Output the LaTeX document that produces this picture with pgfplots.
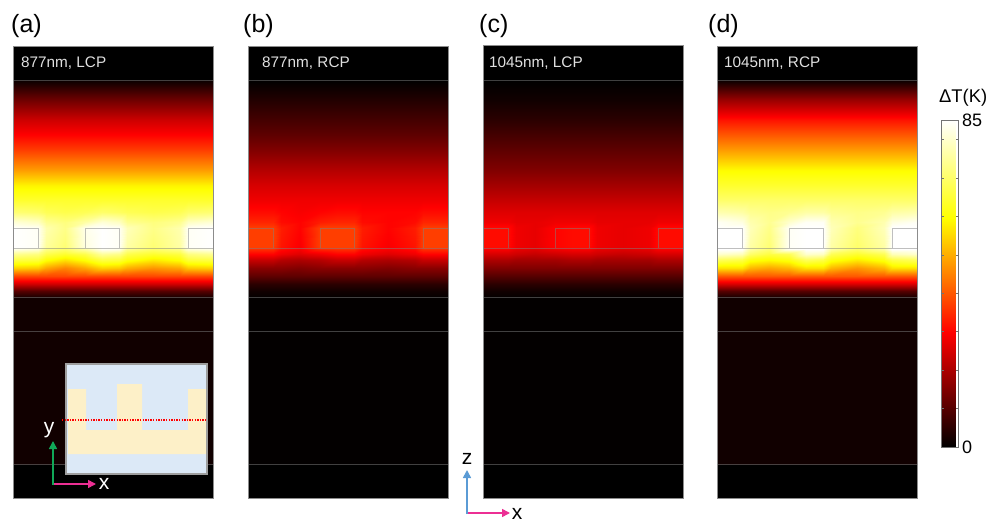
\documentclass[border=0pt]{standalone}
\usepackage{pgfplots}
\pgfplotsset{compat=1.18}
\usepackage{fontspec}
\setmainfont{Liberation Sans}
\usetikzlibrary{arrows.meta}
\definecolor{pinkA}{HTML}{EC2F94}
\definecolor{greenA}{HTML}{10A858}
\definecolor{blueA}{HTML}{5B9BD5}
\definecolor{insetB}{HTML}{DCE9F7}
\definecolor{insetC}{HTML}{FDF0C8}
\newcommand{\fs}[1]{\fontsize{#1}{#1}\selectfont}
\pgfplotsset{
  colormap={hotk}{rgb(0cm)=(0,0,0); rgb(35cm)=(1,0,0); rgb(70cm)=(1,1,0); rgb(100cm)=(1,1,1)},
  table/tt/.style={row sep=\\,header=false,x index=0,y index=1,meta index=2},
  panel/.style={scale only axis,width=200pt,height=452pt,xmin=0,xmax=200,ymin=46,ymax=498,
    y dir=reverse,xtick=\empty,ytick=\empty,anchor=south west,colormap name=hotk,
    point meta min=0,point meta max=85,axis line style={draw=black!45,line width=.8pt},
    axis background/.style={fill=black},axis on top},
  hm/.style={surf,shader=interp,point meta=explicit,mesh/cols=12,forget plot},
  hc/.style={surf,shader=interp,point meta=explicit,mesh/cols=3,forget plot},
  hb/.style={surf,shader=interp,point meta=explicit,mesh/cols=2,forget plot},
}
\tikzset{ln/.style={draw=black!50,opacity=.5,line width=.7pt}}
\newcommand{\layers}{%
  \draw[ln] (0,80)--(200,80);
  \draw[ln] (0,248)--(200,248);
  \draw[ln] (0,297)--(200,297);
  \draw[ln] (0,331)--(200,331);
  \draw[ln] (0,464)--(200,464);
  \draw[ln] (0,228)--(25,228)--(25,248);
  \draw[ln] (72,248)--(72,228)--(106,228)--(106,248);
  \draw[ln] (175,248)--(175,228)--(200,228);
}
\begin{document}
\begin{tikzpicture}
\useasboundingbox (0,0) rectangle (989pt,523pt);
% ---------- (a)
\begin{axis}[panel,at={(13pt,25pt)}]
\addplot[hb] table[tt]{0 297 2\\200 297 2\\0 464 2\\200 464 2\\};
\addplot[hc] table[tt]{0 80 1\\100 80 1\\200 80 1\\0 100 13\\100 100 13\\200 100 13\\0 120 24\\100 120 24\\200 120 24\\0 135 30\\100 135 30\\200 135 30\\0 150 37\\100 150 37\\200 150 37\\0 170 48\\100 170 48\\200 170 48\\0 185 58\\100 185 58\\200 185 58\\0 200 64\\100 200 64\\200 200 64\\};
\addplot[hm] table[tt]{
0 200 64\\25 200 64\\33 200 64\\52 200 64\\72 200 64\\89 200 64\\106 200 64\\114 200 64\\140 200 64\\167 200 64\\175 200 64\\200 200 64\\
0 212 71\\25 212 70\\33 212 68\\52 212 67\\72 212 68\\89 212 70\\106 212 69\\114 212 68\\140 212 67\\167 212 68\\175 212 70\\200 212 71\\
0 222 81\\25 222 79\\33 222 74\\52 222 72\\72 222 76\\89 222 81\\106 222 79\\114 222 74\\140 222 72\\167 222 74\\175 222 79\\200 222 81\\
0 228 85\\25 228 84\\33 228 77\\52 228 73\\72 228 83\\89 228 85\\106 228 84\\114 228 78\\140 228 73\\167 228 77\\175 228 84\\200 228 85\\
0 247 85\\25 247 84\\33 247 75\\52 247 71\\72 247 82\\89 247 85\\106 247 84\\114 247 76\\140 247 71\\167 247 76\\175 247 84\\200 247 85\\
0 249 83\\25 249 81\\33 249 73\\52 249 70\\72 249 76\\89 249 84\\106 249 83\\114 249 74\\140 249 70\\167 249 73\\175 249 81\\200 249 83\\
0 254 74\\25 254 72\\33 254 67\\52 254 64\\72 254 67\\89 254 75\\106 254 73\\114 254 67\\140 254 64\\167 254 66\\175 254 72\\200 254 74\\
0 260 66\\25 260 65\\33 260 60\\52 260 56\\72 260 60\\89 260 66\\106 260 65\\114 260 61\\140 260 57\\167 260 60\\175 260 65\\200 260 66\\
0 268 54\\25 268 53\\33 268 49\\52 268 45\\72 268 49\\89 268 54\\106 268 53\\114 268 50\\140 268 47\\167 268 49\\175 268 53\\200 268 54\\
0 276 38\\25 276 38\\33 276 38\\52 276 38\\72 276 38\\89 276 38\\106 276 38\\114 276 38\\140 276 38\\167 276 38\\175 276 38\\200 276 38\\
};
\addplot[hc] table[tt]{0 276 38\\100 276 38\\200 276 38\\0 284 24\\100 284 24\\200 284 24\\0 291 10\\100 291 10\\200 291 10\\0 297 3\\100 297 3\\200 297 3\\};
\layers
\end{axis}
% ---------- (b)
\begin{axis}[panel,at={(248pt,25pt)}]
\addplot[hb] table[tt]{0 297 .4\\200 297 .4\\0 464 .4\\200 464 .4\\};
\addplot[hc] table[tt]{0 80 0\\100 80 0\\200 80 0\\0 100 4\\100 100 4\\200 100 4\\0 120 8\\100 120 8\\200 120 8\\0 135 11\\100 135 11\\200 135 11\\0 150 15\\100 150 15\\200 150 15\\0 170 21\\100 170 21\\200 170 21\\0 185 25\\100 185 25\\200 185 25\\0 200 28\\100 200 28\\200 200 28\\};
\addplot[hm] table[tt]{
0 200 28\\25 200 28\\33 200 28\\52 200 28\\72 200 28\\89 200 28\\106 200 28\\114 200 28\\140 200 28\\167 200 28\\175 200 28\\200 200 28\\
0 212 31\\25 212 31\\33 212 30\\52 212 29\\72 212 30\\89 212 31\\106 212 31\\114 212 30\\140 212 30\\167 212 30\\175 212 31\\200 212 31\\
0 222 34\\25 222 34\\33 222 31\\52 222 30\\72 222 33\\89 222 34\\106 222 34\\114 222 31\\140 222 30\\167 222 31\\175 222 34\\200 222 34\\
0 228 37\\25 228 37\\33 228 33\\52 228 30\\72 228 37\\89 228 37\\106 228 37\\114 228 33\\140 228 30\\167 228 33\\175 228 37\\200 228 37\\
0 247 37\\25 247 37\\33 247 32\\52 247 29\\72 247 37\\89 247 37\\106 247 37\\114 247 32\\140 247 29\\167 247 32\\175 247 37\\200 247 37\\
0 249 35\\25 249 35\\33 249 31\\52 249 29\\72 249 34\\89 249 35\\106 249 35\\114 249 31\\140 249 29\\167 249 31\\175 249 35\\200 249 35\\
0 254 30\\25 254 30\\33 254 28\\52 254 26\\72 254 28\\89 254 30\\106 254 30\\114 254 28\\140 254 26\\167 254 28\\175 254 30\\200 254 30\\
0 260 23\\25 260 23\\33 260 21\\52 260 20\\72 260 21\\89 260 23\\106 260 23\\114 260 21\\140 260 20\\167 260 21\\175 260 23\\200 260 23\\
0 268 16\\25 268 16\\33 268 16\\52 268 15\\72 268 16\\89 268 16\\106 268 16\\114 268 16\\140 268 15\\167 268 16\\175 268 16\\200 268 16\\
0 276 11\\25 276 11\\33 276 11\\52 276 11\\72 276 11\\89 276 11\\106 276 11\\114 276 11\\140 276 11\\167 276 11\\175 276 11\\200 276 11\\
};
\addplot[hc] table[tt]{0 276 11\\100 276 11\\200 276 11\\0 284 5\\100 284 5\\200 284 5\\0 291 2\\100 291 2\\200 291 2\\0 297 .5\\100 297 .5\\200 297 .5\\};
\layers
\end{axis}
% ---------- (c)
\begin{axis}[panel,at={(483pt,25pt)},height=453pt,ymin=45]
\addplot[hb] table[tt]{0 297 .3\\200 297 .3\\0 464 .3\\200 464 .3\\};
\addplot[hc] table[tt]{0 80 0\\100 80 0\\200 80 0\\0 100 2\\100 100 2\\200 100 2\\0 120 5\\100 120 5\\200 120 5\\0 135 8\\100 135 8\\200 135 8\\0 150 11\\100 150 11\\200 150 11\\0 170 15\\100 170 15\\200 170 15\\0 185 19\\100 185 19\\200 185 19\\0 200 23\\100 200 23\\200 200 23\\};
\addplot[hm] table[tt]{
0 200 23\\25 200 23\\33 200 23\\52 200 23\\72 200 23\\89 200 23\\106 200 23\\114 200 23\\140 200 23\\167 200 23\\175 200 23\\200 200 23\\
0 212 26\\25 212 26\\33 212 26\\52 212 26\\72 212 26\\89 212 26\\106 212 26\\114 212 26\\140 212 26\\167 212 26\\175 212 26\\200 212 26\\
0 222 28\\25 222 28\\33 222 27\\52 222 27\\72 222 28\\89 222 28\\106 222 28\\114 222 27\\140 222 27\\167 222 27\\175 222 28\\200 222 28\\
0 228 31\\25 228 31\\33 228 28\\52 228 27\\72 228 30\\89 228 31\\106 228 31\\114 228 28\\140 228 27\\167 228 28\\175 228 31\\200 228 31\\
0 247 31\\25 247 31\\33 247 28\\52 247 27\\72 247 30\\89 247 31\\106 247 31\\114 247 28\\140 247 27\\167 247 28\\175 247 31\\200 247 31\\
0 249 29\\25 249 29\\33 249 27\\52 249 26\\72 249 28\\89 249 29\\106 249 29\\114 249 27\\140 249 26\\167 249 27\\175 249 29\\200 249 29\\
0 254 25\\25 254 25\\33 254 24\\52 254 23\\72 254 24\\89 254 25\\106 254 25\\114 254 24\\140 254 23\\167 254 24\\175 254 25\\200 254 25\\
0 260 20\\25 260 20\\33 260 19\\52 260 19\\72 260 19\\89 260 20\\106 260 20\\114 260 19\\140 260 19\\167 260 19\\175 260 20\\200 260 20\\
0 268 15\\25 268 15\\33 268 15\\52 268 15\\72 268 15\\89 268 15\\106 268 15\\114 268 15\\140 268 15\\167 268 15\\175 268 15\\200 268 15\\
0 276 10\\25 276 10\\33 276 10\\52 276 10\\72 276 10\\89 276 10\\106 276 10\\114 276 10\\140 276 10\\167 276 10\\175 276 10\\200 276 10\\
};
\addplot[hc] table[tt]{0 276 10\\100 276 10\\200 276 10\\0 284 5\\100 284 5\\200 284 5\\0 291 2\\100 291 2\\200 291 2\\0 297 .5\\100 297 .5\\200 297 .5\\};
\layers
\end{axis}
% ---------- (d)
\begin{axis}[panel,at={(717pt,25pt)},colorbar,
  colorbar style={at={(parent axis.south west)},anchor=south west,xshift=216pt,yshift=51pt,
    scale only axis,width=17pt,height=327pt,ymin=0,ymax=85,ytick={0,85},yticklabels={0,85},
    minor ytick={10,20,30,40,50,60,70,80},tick align=inside,major tick length=0pt,minor tick length=2.5pt,
    tick style={draw=black!55},yticklabel style={font=\fs{18},xshift=0pt},
    axis line style={draw=black!55,line width=.8pt},axis on top}]
\addplot[hb] table[tt]{0 297 2\\200 297 2\\0 464 2\\200 464 2\\};
\addplot[hc] table[tt]{0 80 1\\100 80 1\\200 80 1\\0 100 18\\100 100 18\\200 100 18\\0 120 32\\100 120 32\\200 120 32\\0 135 40\\100 135 40\\200 135 40\\0 150 48\\100 150 48\\200 150 48\\0 170 59\\100 170 59\\200 170 59\\0 185 64\\100 185 64\\200 185 64\\0 200 70\\100 200 70\\200 200 70\\};
\addplot[hm] table[tt]{
0 200 70\\25 200 70\\33 200 70\\52 200 70\\72 200 70\\89 200 70\\106 200 70\\114 200 70\\140 200 70\\167 200 70\\175 200 70\\200 200 70\\
0 212 77\\25 212 76\\33 212 74\\52 212 73\\72 212 74\\89 212 76\\106 212 76\\114 212 74\\140 212 73\\167 212 74\\175 212 76\\200 212 77\\
0 222 84\\25 222 82\\33 222 77\\52 222 74\\72 222 80\\89 222 84\\106 222 84\\114 222 77\\140 222 74\\167 222 77\\175 222 82\\200 222 84\\
0 228 85\\25 228 85\\33 228 78\\52 228 73\\72 228 84\\89 228 85\\106 228 85\\114 228 78\\140 228 72\\167 228 78\\175 228 85\\200 228 85\\
0 247 85\\25 247 85\\33 247 76\\52 247 71\\72 247 84\\89 247 85\\106 247 85\\114 247 76\\140 247 70\\167 247 76\\175 247 85\\200 247 85\\
0 249 85\\25 249 85\\33 249 76\\52 249 71\\72 249 84\\89 249 85\\106 249 85\\114 249 76\\140 249 70\\167 249 76\\175 249 85\\200 249 85\\
0 254 80\\25 254 78\\33 254 70\\52 254 66\\72 254 68\\89 254 80\\106 254 79\\114 254 68\\140 254 64\\167 254 68\\175 254 78\\200 254 80\\
0 260 68\\25 260 66\\33 260 61\\52 260 59\\72 260 61\\89 260 68\\106 260 66\\114 260 61\\140 260 57\\167 260 61\\175 260 66\\200 260 68\\
0 268 56\\25 268 56\\33 268 51\\52 268 49\\72 268 51\\89 268 56\\106 268 56\\114 268 51\\140 268 47\\167 268 51\\175 268 56\\200 268 56\\
0 276 40\\25 276 40\\33 276 40\\52 276 40\\72 276 40\\89 276 40\\106 276 40\\114 276 40\\140 276 40\\167 276 40\\175 276 40\\200 276 40\\
};
\addplot[hc] table[tt]{0 276 40\\100 276 40\\200 276 40\\0 284 25\\100 284 25\\200 284 25\\0 291 10\\100 291 10\\200 291 10\\0 297 3\\100 297 3\\200 297 3\\};
\layers
\end{axis}
% ---------- annotations, in pixel coordinates of the reference
\begin{scope}[x=1pt,y=-1pt,shift={(0pt,523pt)}]
\node[anchor=west,inner sep=0pt,font=\fs{25}] at (11,26) {(a)};
\node[anchor=west,inner sep=0pt,font=\fs{25}] at (243,26) {(b)};
\node[anchor=west,inner sep=0pt,font=\fs{25}] at (479,26) {(c)};
\node[anchor=west,inner sep=0pt,font=\fs{25}] at (708,26) {(d)};
\node[anchor=west,inner sep=0pt,font=\fs{15.3},text=black!12] at (21,63) {877nm, LCP};
\node[anchor=west,inner sep=0pt,font=\fs{15.3},text=black!12] at (262,63) {877nm, RCP};
\node[anchor=west,inner sep=0pt,font=\fs{15.3},text=black!12] at (489,63) {1045nm, LCP};
\node[anchor=west,inner sep=0pt,font=\fs{15.3},text=black!12] at (724,63) {1045nm, RCP};
\node[anchor=west,inner sep=0pt,font=\fs{18.4}] at (939,98) {ΔT(K)};
% inset
\fill[insetB] (66,364) rectangle (207,474);
\fill[insetC] (68,389)--(86,389)--(86,430)--(117,430)--(117,384)--(142,384)--(142,430)--(188,430)--(188,389)--(206,389)--(206,454)--(68,454)--cycle;
\draw[draw=black!38,line width=1.6pt] (66,364) rectangle (207,474);
\draw[red,line width=1.4pt,dash pattern=on 1.3pt off 1.3pt] (62,420)--(207,420);
% axes triad in (a)
\draw[pinkA,line width=1.6pt,-{Triangle[length=8pt,width=8pt]}] (53,484)--(96,484);
\draw[greenA,line width=1.6pt,-{Triangle[length=8pt,width=8pt]}] (53,485)--(53,441);
\node[text=white,font=\fs{21},inner sep=0pt] at (104,484) {x};
\node[text=white,font=\fs{21},inner sep=0pt] at (49,430) {y};
% axes triad between (b) and (c)
\draw[pinkA,line width=1.6pt,-{Triangle[length=8pt,width=8pt]}] (467,513)--(510,513);
\draw[blueA,line width=1.6pt,-{Triangle[length=8pt,width=8pt]}] (467,514)--(467,470);
\node[font=\fs{21},inner sep=0pt] at (517,514) {x};
\node[font=\fs{21},inner sep=0pt] at (467,459) {z};
\end{scope}
\end{tikzpicture}
\end{document}
